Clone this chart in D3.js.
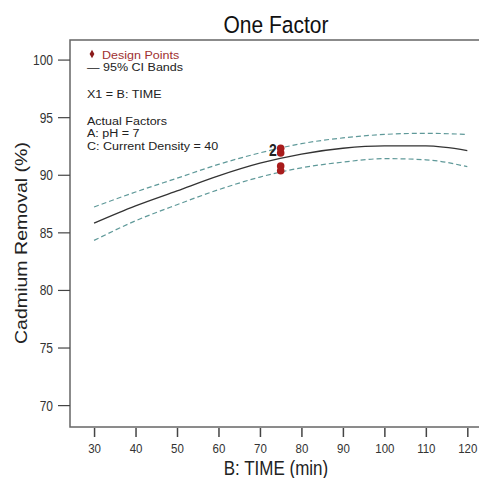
<!DOCTYPE html>
<html>
<head>
<meta charset="utf-8">
<script src="https://cdn.jsdelivr.net/npm/d3@7"></script>
<style>
  body { margin: 0; background: #fff; }
  text { font-family: Arial, "Liberation Sans", sans-serif; }
</style>
</head>
<body>
<div id="chart"></div>
<script>
var margin = {top: 40, right: -2, bottom: 51, left: 70},
    width = 479 - margin.left - margin.right,
    height = 478 - margin.top - margin.bottom;

// the source picture is a bit taller than wide, so text is stretched too
var stretch = 1.18;

// curve values
var times = [30, 40, 50, 60, 70, 80, 90, 100, 110, 120];
var meanVals = [85.8, 87.3, 88.6, 89.9, 91.0, 91.8, 92.3, 92.5, 92.5, 92.1];
var upperVals = [87.2, 88.5, 89.7, 90.9, 91.9, 92.7, 93.2, 93.5, 93.6, 93.5];
var lowerVals = [84.3, 86.0, 87.4, 88.7, 89.8, 90.6, 91.1, 91.4, 91.3, 90.7];

var pointTimes = [75, 75, 75, 75];
var pointVals = [92.3, 91.9, 90.75, 90.35];

var xTicks = [30, 40, 50, 60, 70, 80, 90, 100, 110, 120];
var yTicks = [70, 75, 80, 85, 90, 95, 100];

var legendLines = ["X1 = B: TIME", "Actual Factors", "A: pH = 7", "C: Current Density = 40"];
var legendY = [57.5, 84.5, 97, 109.5];

var svg = d3.select("#chart")
    .append("svg")
        .attr("width", 479)
        .attr("height", 478);

var chart = svg.append("g")
    .attr("transform", "translate(" + margin.left + "," + margin.top + ")");

function label(parent, x, y, str, size, anchor, color, sx, sy) {
    return parent.append("text")
        .attr("transform", "translate(" + x + "," + y + ") scale(" + (sx || 1) + "," + (sy || stretch) + ")")
        .attr("text-anchor", anchor || "start")
        .style("font-size", size + "px")
        .attr("fill", color || "#222")
        .text(str);
}

var x = d3.scaleLinear()
    .domain([24.2, 123.3])
    .range([0, width]);

var y = d3.scaleLinear()
    .domain([68.1, 101.7])
    .range([height, 0]);

// frame
chart.append("rect")
    .attr("x", 0)
    .attr("y", 0)
    .attr("width", width + 10)
    .attr("height", height)
    .attr("fill", "none")
    .attr("stroke", "#666")
    .attr("stroke-width", 1.5);

var xAxis = chart.append("g")
    .attr("transform", "translate(0," + height + ")")
    .call(d3.axisBottom(x).tickValues(xTicks).tickSize(10).tickFormat(""));
xAxis.select(".domain").remove();
xAxis.selectAll("line").attr("stroke", "#444").attr("stroke-width", 1.5)
    .attr("y1", 1).attr("y2", 10);
xAxis.selectAll(".tick").each(function(d) {
    label(d3.select(this), 0, 26, d, 11.5, "middle", "#333");
});

var yAxis = chart.append("g")
    .call(d3.axisLeft(y).tickValues(yTicks).tickSize(12).tickFormat(""));
yAxis.select(".domain").remove();
yAxis.selectAll("line").attr("stroke", "#444").attr("stroke-width", 1.2);
yAxis.selectAll(".tick").each(function(d) {
    label(d3.select(this), -17, 5, d, 12, "end", "#333");
});

var line = d3.line()
    .x(function(d) { return x(d[0]); })
    .y(function(d) { return y(d[1]); })
    .curve(d3.curveMonotoneX);

chart.append("path")
    .datum(d3.zip(times, upperVals))
    .attr("d", line)
    .attr("fill", "none")
    .attr("stroke", "#5f9999")
    .attr("stroke-width", 1.2)
    .attr("stroke-dasharray", "5,3");

chart.append("path")
    .datum(d3.zip(times, lowerVals))
    .attr("d", line)
    .attr("fill", "none")
    .attr("stroke", "#5f9999")
    .attr("stroke-width", 1.2)
    .attr("stroke-dasharray", "5,3");

chart.append("path")
    .datum(d3.zip(times, meanVals))
    .attr("d", line)
    .attr("fill", "none")
    .attr("stroke", "#333")
    .attr("stroke-width", 1.3);

chart.selectAll(".pt")
    .data(d3.zip(pointTimes, pointVals))
    .enter()
    .append("circle")
    .attr("class", "pt")
    .attr("cx", function(d) { return x(d[0]); })
    .attr("cy", function(d) { return y(d[1]); })
    .attr("r", 3.8)
    .attr("fill", "#a81c1c");

label(chart, x(75) - 4, y(92.1) + 5, "2", 14, "end", "#222")
    .style("font-weight", "bold");

// legend
chart.append("path")
    .attr("d", d3.symbol(d3.symbolDiamond, 20)())
    .attr("transform", "translate(22,14)")
    .attr("fill", "#8b1a1a");
label(chart, 32, 18.5, "Design Points", 11.5, "start", "#a03030", 1.09, 1);
label(chart, 17, 31, "\u2014 95% CI Bands", 11.5, "start", "#222", 1.09, 1);

legendLines.forEach(function(d, i) {
    label(chart, 17, legendY[i], d, 11.5, "start", "#222", 1.09, 1);
});

// title and axis labels
label(svg, 276, 33, "One Factor", 21, "middle", "#111");
label(svg, 276, 475, "B: TIME (min)", 17, "middle", "#222");

svg.append("text")
    .attr("transform", "translate(27,243) rotate(-90)")
    .attr("text-anchor", "middle")
    .attr("textLength", 202)
    .attr("lengthAdjust", "spacingAndGlyphs")
    .style("font-size", "17px")
    .attr("fill", "#222")
    .text("Cadmium Removal (%)");
</script>
</body>
</html>
